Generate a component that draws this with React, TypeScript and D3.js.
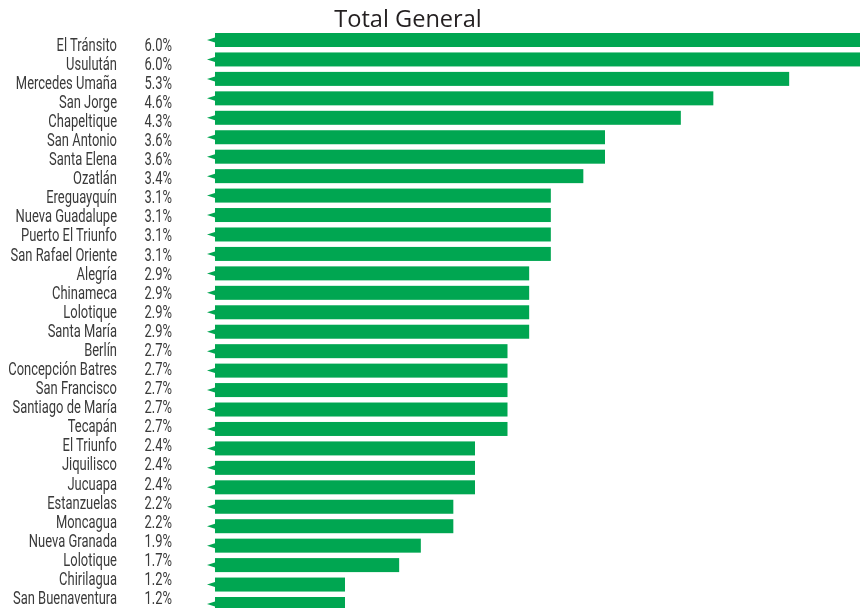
import React from "react"
import * as d3 from "d3"

const WIDTH = 860
const HEIGHT = 608
const BAR_COLOR = "#00a651"
const TEXT_COLOR = "#3a3a3a"

const names = [
    "El Tránsito", "Usulután", "Mercedes Umaña", "San Jorge", "Chapeltique",
    "San Antonio", "Santa Elena", "Ozatlán", "Ereguayquín", "Nueva Guadalupe",
    "Puerto El Triunfo", "San Rafael Oriente", "Alegría", "Chinameca", "Lolotique",
    "Santa María", "Berlín", "Concepción Batres", "San Francisco", "Santiago de María",
    "Tecapán", "El Triunfo", "Jiquilisco", "Jucuapa", "Estanzuelas",
    "Moncagua", "Nueva Granada", "Lolotique", "Chirilagua", "San Buenaventura",
]
const values = [
    6.0, 6.0, 5.3, 4.6, 4.3,
    3.6, 3.6, 3.4, 3.1, 3.1,
    3.1, 3.1, 2.9, 2.9, 2.9,
    2.9, 2.7, 2.7, 2.7, 2.7,
    2.7, 2.4, 2.4, 2.4, 2.2,
    2.2, 1.9, 1.7, 1.2, 1.2,
]

// condensed look: Roboto squeezed horizontally
const LABEL_FONT = "Roboto, sans-serif"
const LABEL_SIZE = 18
const SQUEEZE = 0.72

export default function App() {
    const idx = d3.range(names.length).map(String)

    // bars
    const yBar = d3.scaleBand().domain(idx).range([33, 611]).paddingInner(0.28).paddingOuter(0)
    // labels sit on a slightly tighter grid than the bars
    const yLabel = d3.scalePoint().domain(idx).range([50.7, 604])
    const x = d3.scaleLinear().domain([0, 6]).range([215, 865])

    const label = (tx: number, ty: number, s: string) => (
        <text
            transform={`translate(${tx},${ty}) scale(${SQUEEZE},1)`}
            textAnchor="end"
            fontFamily={LABEL_FONT}
            fontSize={LABEL_SIZE}
            fill={TEXT_COLOR}
        >
            {s}
        </text>
    )

    return (
        <div style={{ position: "fixed", left: 0, top: 0 }}>
            <svg width={WIDTH} height={HEIGHT} style={{ display: "block" }}>
                <text
                    x={408}
                    y={27}
                    textAnchor="middle"
                    fontFamily="'Open Sans', sans-serif"
                    fontSize={23.6}
                    fill="#231f20"
                >
                    Total General
                </text>
                {idx.map((k, i) => {
                    const y0 = yBar(k) ?? 0
                    const bw = yBar.bandwidth()
                    const cy = y0 + bw / 2
                    const ly = yLabel(k) ?? 0
                    return (
                        <g key={k}>
                            <rect
                                x={x(0)}
                                y={y0}
                                width={x(values[i]) - x(0)}
                                height={bw}
                                fill={BAR_COLOR}
                            />
                            <path
                                d={`M${x(0) - 8},${cy} L${x(0)},${cy - 2.5} L${x(0)},${cy + 2.5} Z`}
                                fill={BAR_COLOR}
                            />
                            {label(117, ly, names[i])}
                            {label(172, ly, d3.format(".1f")(values[i]) + "%")}
                        </g>
                    )
                })}
            </svg>
        </div>
    )
}
